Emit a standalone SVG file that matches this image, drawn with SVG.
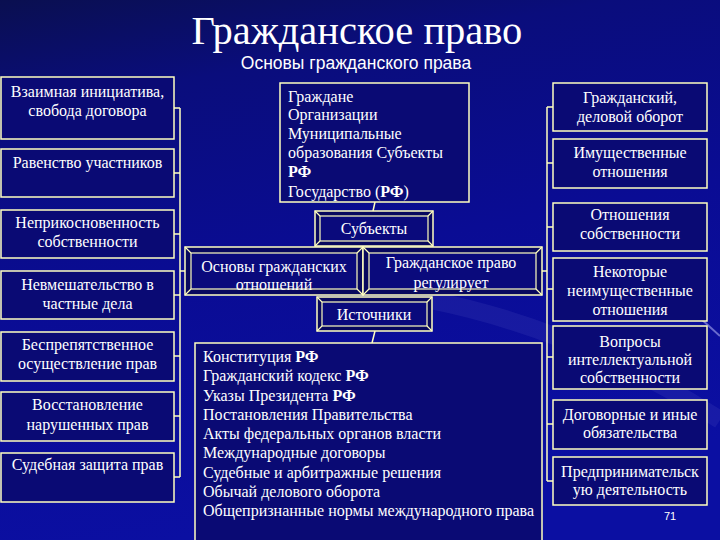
<svg xmlns="http://www.w3.org/2000/svg" width="720" height="540" viewBox="0 0 720 540">
<defs>
<linearGradient id="bg" x1="0" y1="0" x2="0.25" y2="1">
<stop offset="0" stop-color="#0a0f50"/>
<stop offset="0.2" stop-color="#0a0d7c"/>
<stop offset="0.55" stop-color="#0a0c94"/>
<stop offset="1" stop-color="#0b0fa2"/>
</linearGradient>
<style>
.bx{fill:#0a0a74;stroke:#ffffc0;stroke-width:1.5}
.bo{fill:#08085e;stroke:#ffffc0;stroke-width:1.5}
.bi{fill:#0a0a7c;stroke:#ffffc0;stroke-width:1.2}
.bv{stroke:#ffffc0;stroke-width:1.2;fill:none}
.ln{stroke:#ffffc0;stroke-width:1.5;fill:none}
text{font-family:"Liberation Serif","Times New Roman",serif;font-size:16px;fill:#ffffff}
.c{text-anchor:middle}
.b{font-weight:bold}
</style>
</defs>
<rect width="720" height="540" fill="url(#bg)"/>
<g stroke="#c8c8ff" fill="none">
<path d="M430 300 Q580 330 720 420" stroke-width="18" opacity="0.07"/>
<path d="M700 318 L720 336" stroke-width="2" opacity="0.5"/>
</g>
<text x="357" y="44" class="c" style="font-size:40.5px">Гражданское право</text>
<text x="356" y="69" class="c" style="font-family:'Liberation Sans',Arial,sans-serif;font-size:17.5px">Основы гражданского права</text>

<g id="connectors">
<path class="ln" d="M180 108 V477 M174 108 H180 M174 173 H180 M174 234 H180 M174 295 H180 M174 356 H180 M174 416 H180 M174 477 H180 M180 271 H185"/>
<path class="ln" d="M547 107 V481 M547 107 H553 M547 163 H553 M547 227 H553 M547 289 H553 M547 357 H553 M547 424 H553 M547 481 H553 M542 271 H547"/>
<path class="ln" d="M375 202 L373 211 M375 331 L372 343"/>
</g>

<g id="l1"><rect class="bx" x="1" y="77" width="173" height="62"/><text class="c" x="87.5" y="97">Взаимная инициатива,</text><text class="c" x="87.5" y="116">свобода договора</text></g>
<g id="l2"><rect class="bx" x="1" y="149" width="173" height="48"/><text class="c" x="87.5" y="168">Равенство участников</text></g>
<g id="l3"><rect class="bx" x="1" y="210" width="173" height="48"/><text class="c" x="87.5" y="228">Неприкосновенность</text><text class="c" x="87.5" y="247">собственности</text></g>
<g id="l4"><rect class="bx" x="1" y="271" width="173" height="48"/><text class="c" x="87.5" y="290">Невмешательство в</text><text class="c" x="87.5" y="309">частные дела</text></g>
<g id="l5"><rect class="bx" x="1" y="332" width="173" height="49"/><text class="c" x="87.5" y="350">Беспрепятственное</text><text class="c" x="87.5" y="369">осуществление прав</text></g>
<g id="l6"><rect class="bx" x="1" y="392" width="173" height="49"/><text class="c" x="87.5" y="410">Восстановление</text><text class="c" x="87.5" y="430">нарушенных прав</text></g>
<g id="l7"><rect class="bx" x="1" y="453" width="173" height="49"/><text class="c" x="87.5" y="470">Судебная защита прав</text></g>

<g id="subjects-list"><rect class="bx" x="280" y="83" width="189" height="119"/>
<text x="288" y="102">Граждане</text>
<text x="288" y="120">Организации</text>
<text x="288" y="139">Муниципальные</text>
<text x="288" y="158">образования Субъекты</text>
<text x="288" y="177" class="b">РФ</text>
<text x="288" y="197">Государство (<tspan class="b">РФ</tspan>)</text></g>

<g id="subjects"><rect class="bo" x="315" y="211" width="118" height="35"/><rect class="bi" x="320" y="216" width="108" height="25"/><path class="bv" d="M315 211 L320 216 M433 211 L428 216 M315 246 L320 241 M433 246 L428 241"/><text class="c" x="374" y="234">Субъекты</text></g>

<g id="osnovy"><rect class="bo" x="185" y="247" width="178" height="48"/><rect class="bi" x="191" y="253" width="166" height="36"/><path class="bv" d="M185 247 L191 253 M363 247 L357 253 M185 295 L191 289 M363 295 L357 289"/><text class="c" x="274" y="272">Основы гражданских</text><text class="c" x="274" y="290">отношений</text></g>

<g id="reguliruet"><rect class="bo" x="363" y="247" width="179" height="48"/><rect class="bi" x="369" y="253" width="167" height="36"/><path class="bv" d="M363 247 L369 253 M542 247 L536 253 M363 295 L369 289 M542 295 L536 289"/><text class="c" x="451" y="268">Гражданское право</text><text class="c" x="451" y="288">регулирует</text></g>

<g id="sources"><rect class="bo" x="317" y="297" width="115" height="34"/><rect class="bi" x="322" y="302" width="105" height="24"/><path class="bv" d="M317 297 L322 302 M432 297 L427 302 M317 331 L322 326 M432 331 L427 326"/><text class="c" x="374" y="320">Источники</text></g>

<g id="sources-list"><rect class="bx" x="195" y="343" width="347" height="210"/>
<text x="203" y="362">Конституция <tspan class="b">РФ</tspan></text>
<text x="203" y="381.25">Гражданский кодекс <tspan class="b">РФ</tspan></text>
<text x="203" y="400.5">Указы Президента <tspan class="b">РФ</tspan></text>
<text x="203" y="419.75">Постановления Правительства</text>
<text x="203" y="439">Акты федеральных органов власти</text>
<text x="203" y="458.25">Международные договоры</text>
<text x="203" y="477.5">Судебные и арбитражные решения</text>
<text x="203" y="496.75">Обычай делового оборота</text>
<text x="203" y="516">Общепризнанные нормы международного права</text></g>

<g id="r1"><rect class="bx" x="553" y="83" width="154" height="48"/><text class="c" x="630" y="103">Гражданский,</text><text class="c" x="630" y="122">деловой оборот</text></g>
<g id="r2"><rect class="bx" x="553" y="139" width="154" height="49"/><text class="c" x="630" y="158">Имущественные</text><text class="c" x="630" y="177">отношения</text></g>
<g id="r3"><rect class="bx" x="553" y="203" width="154" height="48"/><text class="c" x="630" y="220">Отношения</text><text class="c" x="630" y="239">собственности</text></g>
<g id="r4"><rect class="bx" x="553" y="258" width="154" height="63"/><text class="c" x="630" y="277">Некоторые</text><text class="c" x="630" y="296">неимущественные</text><text class="c" x="630" y="315">отношения</text></g>
<g id="r5"><rect class="bx" x="553" y="326" width="154" height="63"/><text class="c" x="630" y="347">Вопросы</text><text class="c" x="630" y="365">интеллектуальной</text><text class="c" x="630" y="383">собственности</text></g>
<g id="r6"><rect class="bx" x="553" y="400" width="154" height="49"/><text class="c" x="630" y="420">Договорные и иные</text><text class="c" x="630" y="438">обязательства</text></g>
<g id="r7"><rect class="bx" x="553" y="457" width="154" height="48"/><text class="c" x="630" y="477">Предпринимательск</text><text class="c" x="630" y="495">ую деятельность</text></g>

<text x="670" y="520" class="c" style="font-family:'Liberation Sans',Arial,sans-serif;font-size:11px">71</text>
</svg>
